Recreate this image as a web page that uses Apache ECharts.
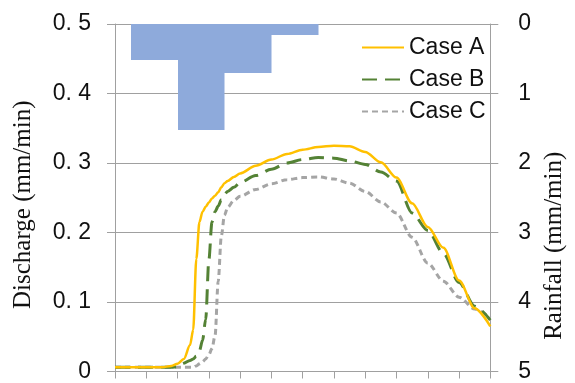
<!DOCTYPE html>
<html>
<head>
<meta charset="utf-8">
<script src="https://cdn.jsdelivr.net/npm/echarts@6/dist/echarts.min.js"></script>
<style>html,body{margin:0;padding:0;background:#fff}#c{width:575px;height:383px}</style>
</head>
<body>
<div id="c"></div>
<script>
// time (min)
const times = [0,5,10,15,18,20,22,24,25,26,27,28,29,30,31,32,33,34,35,36,38,40,45,50,55,60,65,70,75,80,85,90,95,100,105,110,115,120];
// discharge (mm/min)
const caseA = [0.006,0.006,0.006,0.006,0.008,0.011,0.018,0.038,0.06,0.162,0.215,0.23,0.237,0.243,0.249,0.253,0.258,0.265,0.271,0.274,0.28,0.285,0.296,0.305,0.313,0.319,0.323,0.325,0.324,0.316,0.301,0.279,0.242,0.208,0.178,0.131,0.091,0.065];
const caseB = [0.006,0.006,0.006,0.006,0.006,0.007,0.012,0.016,0.018,0.022,0.03,0.045,0.075,0.16,0.215,0.23,0.238,0.247,0.255,0.259,0.265,0.272,0.282,0.291,0.3,0.305,0.308,0.307,0.303,0.298,0.287,0.274,0.228,0.203,0.17,0.128,0.094,0.074];
const caseC = [0.006,0.006,0.006,0.006,0.006,0.006,0.006,0.006,0.006,0.008,0.011,0.014,0.018,0.024,0.033,0.052,0.13,0.195,0.225,0.236,0.246,0.252,0.262,0.27,0.276,0.279,0.28,0.277,0.271,0.259,0.244,0.228,0.193,0.156,0.13,0.107,0.09,0.077];
// rainfall blocks (min, mm/min)
const rainStart = [5,20,35,50];
const rainEnd = [20,35,50,65];
const rainfall = [0.52,1.53,0.71,0.16];
// tick labels
const dischargeTicks = ['0','0. 1','0. 2','0. 3','0. 4','0. 5'];
const rainTicks = ['0','1','2','3','4','5'];
const seriesNames = ['Case A','Case B','Case C'];

const pair = arr => times.map((t,i) => [t, arr[i]]);
const rainData = rainStart.map((s,i) => [s, rainEnd[i], rainfall[i]]);

const chart = echarts.init(document.getElementById('c'), null, {renderer:'canvas'});
const gridColor = '#a0a0a0';
const labelFont = "'Liberation Sans', Arial, sans-serif";
chart.setOption({
  animation: false,
  backgroundColor: '#fff',
  grid: {left: 115, right: 77, top: 24, bottom: 10, containLabel: false},
  legend: {
    orient: 'vertical', left: 356, top: 31, itemWidth: 42, itemHeight: 12, itemGap: 9,
    itemStyle: {opacity: 0},
    textStyle: {fontFamily: labelFont, fontSize: 23, color: '#111'},
    data: seriesNames
  },
  xAxis: {
    type: 'value', min: 0, max: 120, interval: 10,
    axisLine: {show: true, lineStyle: {color: gridColor, width: 1}},
    axisTick: {show: true, inside: false, length: 7, lineStyle: {color: gridColor}},
    axisLabel: {show: false},
    splitLine: {show: false}
  },
  yAxis: [{
    type: 'value', min: 0, max: 0.5, interval: 0.1, position: 'left',
    name: 'Discharge (mm/min)', nameLocation: 'middle', nameRotate: 90, nameGap: 79,
    nameTextStyle: {fontFamily: "'Liberation Serif', 'Times New Roman', serif", fontSize: 25, color: '#111', padding: [0, 14, 0, 0]},
    axisLine: {show: true, lineStyle: {color: gridColor}},
    axisTick: {show: true, inside: false, length: 8, lineStyle: {color: gridColor}},
    axisLabel: {margin: 24, fontFamily: labelFont, fontSize: 23, color: '#111',
      formatter: (v) => dischargeTicks[Math.round(v * 10)]},
    splitLine: {show: true, lineStyle: {color: gridColor, width: 1}}
  }, {
    type: 'value', min: 0, max: 5, interval: 1, position: 'right', inverse: true,
    name: 'Rainfall (mm/min)', nameLocation: 'middle', nameRotate: 90, nameGap: 46,
    nameTextStyle: {fontFamily: "'Liberation Serif', 'Times New Roman', serif", fontSize: 25, color: '#111', padding: [0, 96, 0, 0]},
    axisLine: {show: true, lineStyle: {color: gridColor}},
    axisTick: {show: true, inside: false, length: 8, lineStyle: {color: gridColor}},
    axisLabel: {margin: 28, fontFamily: labelFont, fontSize: 23, color: '#111',
      formatter: (v) => rainTicks[Math.round(v)]},
    splitLine: {show: false}
  }],
  series: [{
    type: 'custom', name: 'Rainfall', yAxisIndex: 1, z: 1,
    data: rainData,
    encode: {x: [0, 1], y: 2},
    renderItem: function (params, api) {
      const s = api.value(0), e = api.value(1), v = api.value(2);
      const p0 = api.coord([s, 0]);
      const p1 = api.coord([e, v]);
      const x0 = Math.round(p0[0]), x1 = Math.round(p1[0]);
      const y0 = Math.round(Math.min(p0[1], p1[1])), y1 = Math.round(Math.max(p0[1], p1[1]));
      return {type: 'rect',
        shape: {x: x0, y: y0, width: x1 - x0 + 0.5, height: y1 - y0},
        style: {fill: '#8eaadb', stroke: null, lineWidth: 0}};
    }
  }, {
    type: 'line', name: seriesNames[0], data: pair(caseA), showSymbol: false, symbol: 'none',
    smooth: 0.3, smoothMonotone: 'x', z: 4,
    lineStyle: {color: '#ffc000', width: 2.5, type: 'solid'}, itemStyle: {color: '#ffc000'}
  }, {
    type: 'line', name: seriesNames[1], data: pair(caseB), showSymbol: false, symbol: 'none',
    smooth: 0.3, smoothMonotone: 'x', z: 3,
    lineStyle: {color: '#548235', width: 3, type: [15, 8]}, itemStyle: {color: '#548235'}
  }, {
    type: 'line', name: seriesNames[2], data: pair(caseC), showSymbol: false, symbol: 'none',
    smooth: 0.3, smoothMonotone: 'x', z: 2,
    lineStyle: {color: '#a5a5a5', width: 3, type: [6, 4]}, itemStyle: {color: '#a5a5a5'}
  }]
});
</script>
</body>
</html>
